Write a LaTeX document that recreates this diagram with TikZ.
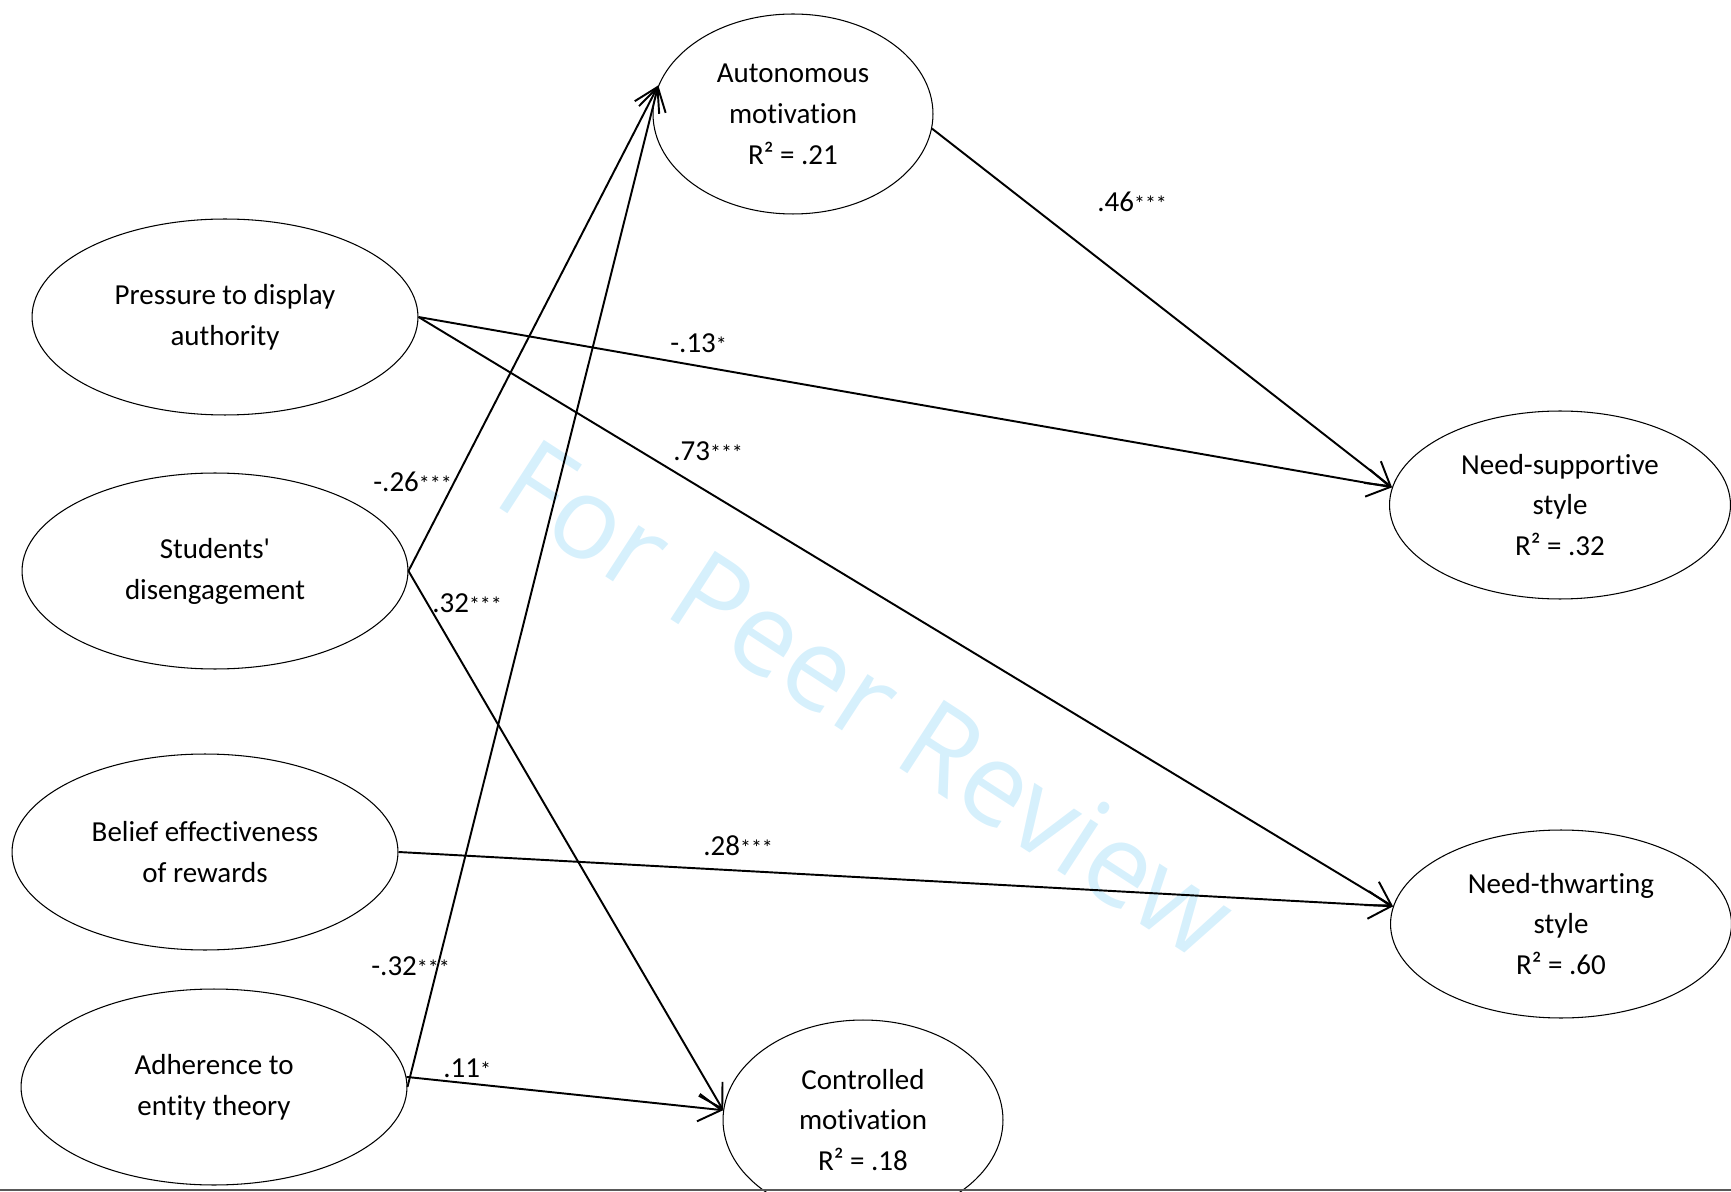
\documentclass[tikz,border=0pt]{standalone}
\usepackage{fontspec}
\newfontfamily\calfont{Carlito}[Ligatures={CommonOff,ContextualOff}]
\newfontfamily\wmfont{Open Sans}
\usetikzlibrary{shapes.geometric,arrows.meta}
\definecolor{wmblue}{RGB}{214,240,252}
\newcommand{\sgn}[1]{{\fontsize{12.5}{13}\selectfont #1}}

\begin{document}
\begin{tikzpicture}[x=0.02cm,y=-0.02cm,
    var/.style={draw, ellipse, line width=0.6pt, inner sep=0pt, align=center,
        font=\calfont\fontsize{16.5}{23.3}\selectfont},
    predictor/.style={var, minimum width=7.72cm, minimum height=3.92cm},
    motive/.style={var, minimum width=5.6cm, minimum height=4cm},
    outcome/.style={var, minimum width=6.82cm, minimum height=3.76cm},
    link/.style={line width=1.1pt, -{Straight Barb[length=0.46cm,width=0.55cm]}},
    coef/.style={anchor=base west, inner sep=0pt, font=\calfont\fontsize{16.5}{20}\selectfont}]

    \useasboundingbox (0,0) rectangle (1731,1192);

    % watermark
    \node[text=wmblue, rotate=-33, anchor=base west, inner sep=0pt,
        font=\wmfont\fontsize{65}{70}\selectfont] (wm) at (490,502) {For Peer Review};

    % predictors
    \node[predictor] (pressure) at (225,317) {Pressure to display\\authority};
    \node[predictor] (diseng) at (215,571) {Students'\\disengagement};
    \node[predictor] (belief) at (205,852) {Belief effectiveness\\of rewards};
    \node[predictor] (entity) at (214,1087) {Adherence to\\entity theory};

    % motivation
    \node[motive] (auton) at (793,114) {Autonomous\\motivation\\R² = .21};
    \node[motive] (contr) at (863,1120) {Controlled\\motivation\\R² = .18};

    % teaching styles
    \node[outcome] (support) at (1560,505) {Need-supportive\\style\\R² = .32};
    \node[outcome] (thwart) at (1561,924) {Need-thwarting\\style\\R² = .60};

    % paths
    \draw[link] (diseng.east) -- (auton.168);
    \draw[link] (entity.east) -- (auton.168);
    \draw[link] (diseng.east) -- (contr.176);
    \draw[link] (entity.3) -- (contr.176);
    \draw[link] (auton.-6) -- (support.174);
    \draw[link] (pressure.east) -- (support.174);
    \draw[link] (pressure.east) -- (thwart.174);
    \draw[link] (belief.east) -- (thwart.174);

    % coefficients
    \node[coef] (c46) at (1097,212) {.46\sgn{***}};
    \node[coef] (c13) at (670,353) {-.13\sgn{*}};
    \node[coef] (c73) at (673,461) {.73\sgn{***}};
    \node[coef] (c26) at (373,492) {-.26\sgn{***}};
    \node[coef] (c32a) at (432,612) {.32\sgn{***}};
    \node[coef] (c32b) at (371,975) {-.32\sgn{***}};
    \node[coef] (c11) at (443,1077) {.11\sgn{*}};
    \node[coef] (c28) at (703,855) {.28\sgn{***}};

    % page rule
    \draw[black!65, line width=0.8pt] (0,1190) -- (1731,1190);

\end{tikzpicture}
\end{document}
